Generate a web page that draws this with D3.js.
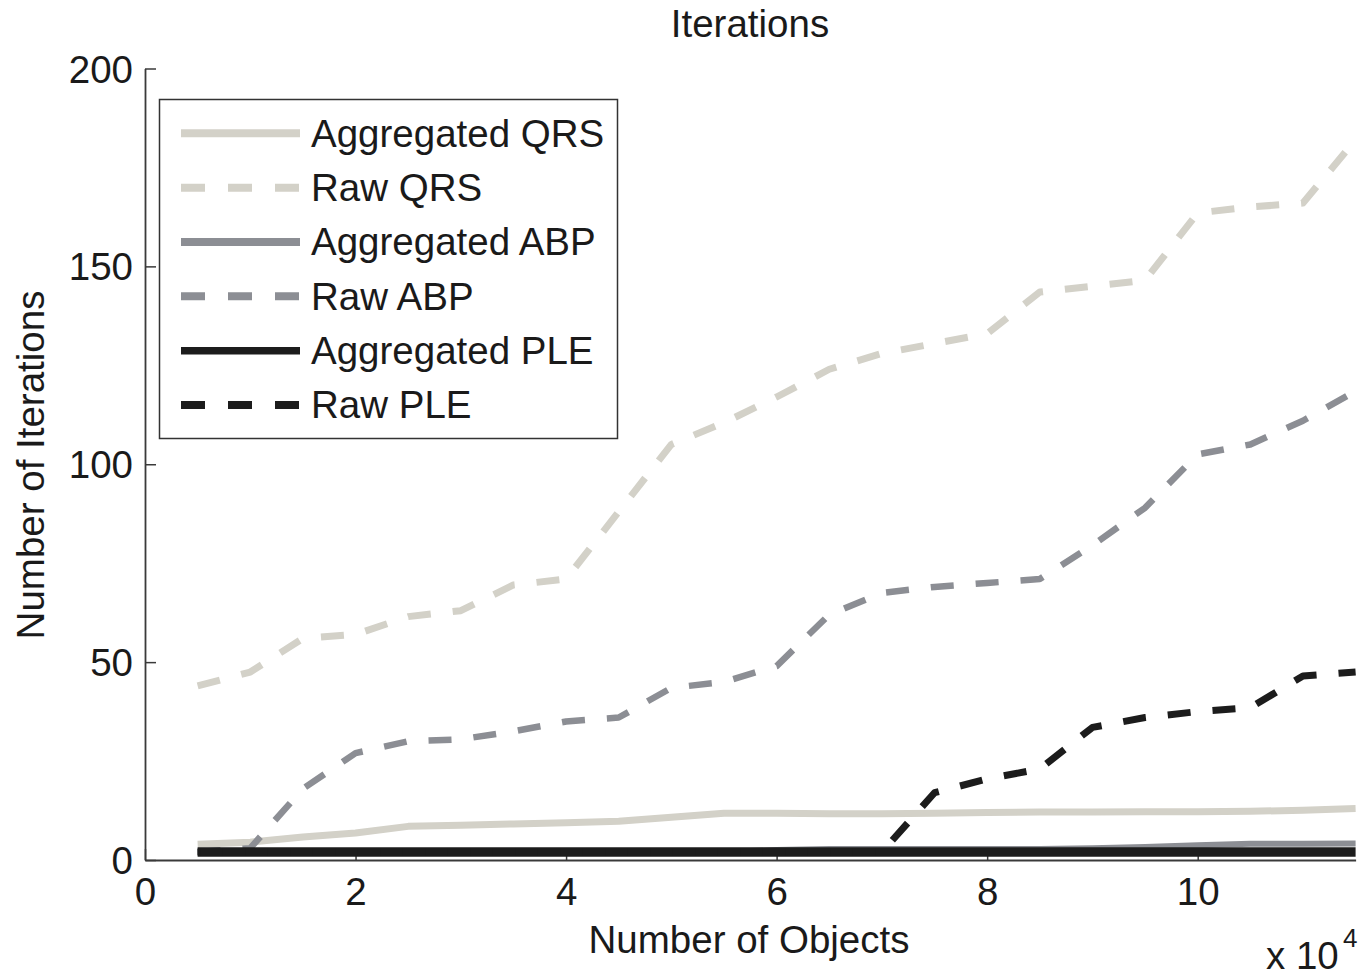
<!DOCTYPE html>
<html>
<head>
<meta charset="utf-8">
<script src="https://cdn.jsdelivr.net/npm/d3@7/dist/d3.min.js"></script>
<style>
  html, body { margin: 0; padding: 0; background: #fff; }
  svg text { font-family: "Liberation Sans", Arial, Helvetica, sans-serif; fill: #1a1a1a; }
</style>
</head>
<body>
<svg id="chart" width="1371" height="978"></svg>
<script>
// Number of objects (in units of 10^4)
const objectCounts = [0.5, 1, 1.5, 2, 2.5, 3, 3.5, 4, 4.5, 5, 5.5, 6, 6.5, 7, 7.5, 8, 8.5, 9, 9.5, 10, 10.5, 11, 11.5];

// Iterations per method
const aggregatedQRS = [4.0, 4.5, 5.8, 6.8, 8.5, 8.8, 9.1, 9.4, 9.8, 10.8, 11.8, 11.8, 11.7, 11.7, 11.8, 12.0, 12.1, 12.1, 12.2, 12.2, 12.3, 12.6, 13.0];
const rawQRS        = [44, 47.5, 56, 57, 61.5, 63, 69.5, 71, 88, 105, 110.5, 117, 124, 128, 130.5, 133, 143.5, 145, 146.5, 163.5, 165, 166, 182];
const aggregatedABP = [2, 2, 2, 2, 2, 2, 2, 2, 2, 2, 2, 2.5, 2.8, 2.8, 2.8, 2.8, 2.8, 3, 3.3, 3.7, 4.1, 4.1, 4.2];
const rawABP        = [2, 3, 18, 27, 30, 30.5, 32.5, 35, 36, 43.5, 45, 49, 62, 67.5, 69, 70, 71, 79.5, 89, 102.5, 105, 111, 118.5];
const aggregatedPLE = [2, 2, 2, 2, 2, 2, 2, 2, 2, 2, 2, 2, 2, 2, 2, 2, 2, 2, 2, 2, 2, 2, 2];
const rawPLE        = [2, 2, 2, 2, 2, 2, 2, 2, 2, 2, 2, 2, 2, 2, 17, 20.5, 23, 33.5, 36, 37.5, 38.5, 46.5, 47.5];

const seriesNames = ["Aggregated QRS", "Raw QRS", "Aggregated ABP", "Raw ABP", "Aggregated PLE", "Raw PLE"];
const seriesValues = [aggregatedQRS, rawQRS, aggregatedABP, rawABP, aggregatedPLE, rawPLE];

const xTicks = [0, 2, 4, 6, 8, 10];
const yTicks = [0, 50, 100, 150, 200];

// Line styles per series
const styles = [
  { color: "#d3d1c8", width: 7, dash: null, offset: 0 },
  { color: "#d3d1c8", width: 7, dash: "23,22", offset: 0 },
  { color: "#8c8e94", width: 6, dash: null, offset: 0 },
  { color: "#8c8e94", width: 6.5, dash: "23,22", offset: 0 },
  { color: "#1c1c1c", width: 9.5, dash: null, offset: 0 },
  { color: "#1c1c1c", width: 7, dash: "23,22", offset: 20 }
];

const svg = d3.select("#chart");
const plotLeft = 145, plotRight = 1355.6, plotTop = 68.5, plotBottom = 860;
const FS = 38.5;

const x = d3.scaleLinear().domain([0, 11.5]).range([plotLeft, plotRight]);
const y = d3.scaleLinear().domain([0, 200]).range([plotBottom, plotTop]);

const axisColor = "#3a3a3a";

// Axes (ticks point inward)
const xAxis = d3.axisBottom(x).tickValues(xTicks).tickSizeInner(-11).tickSizeOuter(0).tickFormat(d3.format("d"));
const yAxis = d3.axisLeft(y).tickValues(yTicks).tickSizeInner(-11).tickSizeOuter(0).tickFormat(d3.format("d"));

const gx = svg.append("g").attr("transform", `translate(0,${plotBottom})`).call(xAxis);
const gy = svg.append("g").attr("transform", `translate(${plotLeft},0)`).call(yAxis);

[gx, gy].forEach(g => {
  g.select(".domain").attr("stroke", axisColor).attr("stroke-width", 1.8);
  g.selectAll(".tick line").attr("stroke", axisColor).attr("stroke-width", 1.5);
  g.selectAll(".tick text").attr("font-size", FS).attr("fill", "#1a1a1a")
    .style("font-family", '"Liberation Sans", Arial, sans-serif');
});
gx.selectAll(".tick text").attr("y", 0).attr("dy", 0).attr("transform", "translate(0,45)");
gy.selectAll(".tick text").attr("x", -12).attr("dy", 0).attr("transform", "translate(0,13.5)");

// Data lines
const line = d3.line()
  .defined(d => d[1] != null)
  .x(d => x(d[0]))
  .y(d => y(d[1]));

const linesG = svg.append("g");
seriesValues.forEach((vals, i) => {
  const st = styles[i];
  linesG.append("path")
    .datum(objectCounts.map((c, j) => [c, vals[j]]))
    .attr("d", line)
    .attr("fill", "none")
    .attr("stroke", st.color)
    .attr("stroke-width", st.width)
    .attr("stroke-linejoin", "round")
    .attr("stroke-linecap", "butt")
    .attr("stroke-dasharray", st.dash)
    .attr("stroke-dashoffset", st.offset);
});

// Title and axis labels
svg.append("text").attr("x", 750).attr("y", 37).attr("text-anchor", "middle")
  .attr("font-size", FS).text("Iterations");
svg.append("text").attr("x", 749).attr("y", 953).attr("text-anchor", "middle")
  .attr("font-size", FS).text("Number of Objects");
svg.append("text").attr("transform", "translate(44,465) rotate(-90)").attr("text-anchor", "middle")
  .attr("font-size", FS).text("Number of Iterations");

// Exponent note for the x axis
const expo = svg.append("text").attr("x", 1266).attr("y", 969).attr("font-size", FS);
expo.append("tspan").text("x 10");
expo.append("tspan").attr("x", 1343).attr("y", 947).attr("font-size", 26).text("4");

// Legend
const lg = svg.append("g");
lg.append("rect").attr("x", 159.5).attr("y", 99.5).attr("width", 458).attr("height", 339)
  .attr("fill", "#fff").attr("stroke", "#333").attr("stroke-width", 1.5);
const rowY = d3.scaleLinear().domain([0, 5]).range([133.3, 405]);
seriesNames.forEach((name, i) => {
  const st = styles[i];
  const yy = rowY(i);
  lg.append("line").attr("x1", 181).attr("x2", 300).attr("y1", yy).attr("y2", yy)
    .attr("stroke", st.color).attr("stroke-width", i === 4 ? 7.5 : 8)
    .attr("stroke-dasharray", st.dash ? "24,23" : null);
  lg.append("text").attr("x", 311).attr("y", yy + 13.4).attr("font-size", FS).text(name);
});
</script>
</body>
</html>
